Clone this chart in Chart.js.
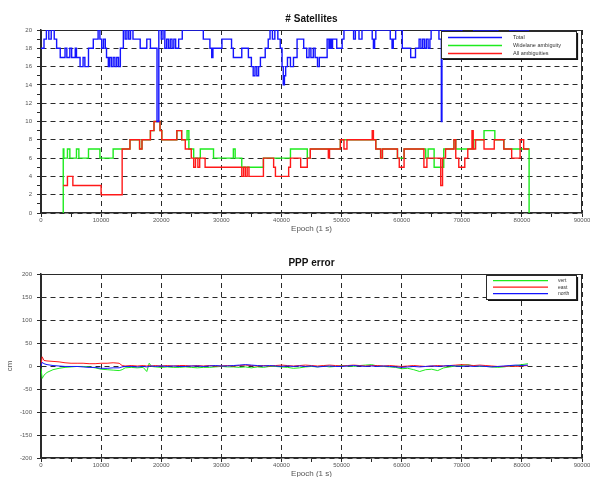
<!DOCTYPE html>
<html>
<head>
<meta charset="utf-8">
<script src="https://cdn.jsdelivr.net/npm/chart.js@4.4.1/dist/chart.umd.min.js"></script>
<style>
	html, body { margin: 0; padding: 0; background: #fff; overflow: hidden; }
	.page { position: relative; width: 590px; height: 477px; overflow: hidden; }
	.panel { position: absolute; left: 0; }
	#sats { top: 0; }
	#err { top: 238px; }
</style>
</head>
<body>
<div class="page">
	<canvas id="sats" class="panel" width="590" height="238"></canvas>
	<canvas id="err" class="panel" width="590" height="245"></canvas>
</div>
<script>
// # Satellites (step series: value holds from epoch until the next epoch)
const totalEpoch = [0, 500, 900, 1300, 1700, 2200, 2600, 3200, 4000, 4300, 4800, 5100, 5700, 5900, 6500, 7000, 7300, 7900, 8700, 9500, 9800, 10100, 10400, 10700, 10900, 11200, 11400, 11700, 12000, 12300, 12600, 12900, 13200, 13700, 14000, 14300, 14600, 14900, 15300, 16500, 17600, 18200, 19300, 19600, 20000, 20300, 20600, 20900, 21200, 21500, 21800, 22100, 22400, 22900, 23500, 27000, 28100, 28400, 28600, 30100, 31700, 32000, 33400, 34500, 35000, 35300, 35600, 35900, 36200, 36500, 37300, 37800, 38100, 38500, 38900, 39400, 39800, 40100, 40300, 40500, 40700, 41000, 41500, 42000, 42600, 43700, 44200, 44600, 44900, 45300, 45600, 46000, 46300, 47600, 47900, 48100, 48300, 48500, 49200, 50100, 50400, 52000, 52300, 52900, 53400, 55100, 55300, 55500, 55700, 58100, 58400, 58600, 59000, 60100, 61500, 62300, 62900, 63200, 63500, 63800, 64100, 64400, 64700, 64900, 66200, 66600, 66700, 70000, 72000, 76000, 78000, 81200];
const totalSats = [18, 19, 20, 19, 20, 19, 18, 17, 18, 17, 18, 17, 18, 17, 16, 17, 16, 18, 19, 20, 19, 18, 19, 18, 17, 16, 17, 16, 17, 16, 17, 16, 18, 20, 19, 20, 19, 20, 19, 18, 19, 18, 10, 20, 19, 20, 18, 19, 18, 19, 18, 19, 18, 19, 20, 19, 18, 17, 18, 19, 18, 17, 18, 17, 16, 15, 16, 15, 16, 17, 18, 19, 20, 19, 20, 19, 18, 16, 14, 15, 16, 17, 16, 17, 19, 18, 17, 18, 17, 18, 17, 16, 17, 19, 18, 19, 18, 19, 18, 19, 20, 19, 20, 19, 20, 19, 18, 19, 20, 19, 18, 19, 20, 18, 17, 18, 19, 18, 19, 18, 19, 18, 19, 20, 19, 10, 20, 19, 20, 19, 20, 20];

const wideEpoch = [3700, 3701, 3800, 4400, 4800, 5900, 6300, 7900, 9800, 12000, 14800, 16400, 16800, 18200, 18800, 19800, 20100, 22600, 23400, 24300, 24600, 25400, 26500, 28700, 32000, 32300, 33400, 37000, 41500, 44300, 44800, 49800, 55700, 56500, 56800, 59300, 60400, 64000, 64400, 65400, 67000, 68700, 69000, 72000, 73700, 75500, 77000, 81200];
const wideSats = [0, 7, 6, 7, 6, 7, 6, 7, 6, 7, 8, 7, 8, 9, 10, 9, 8, 9, 8, 9, 7, 6, 7, 6, 7, 6, 5, 6, 7, 6, 7, 8, 7, 6, 7, 6, 7, 6, 7, 5, 7, 8, 7, 8, 9, 8, 7, 0];

const allEpoch = [3700, 4400, 5300, 10000, 13500, 14800, 16400, 16800, 18200, 18800, 19800, 20100, 22600, 23400, 24000, 25000, 25400, 25700, 26100, 26400, 27300, 33400, 33700, 34000, 34300, 34600, 37000, 38700, 39000, 41200, 41500, 43200, 44300, 44800, 47800, 48000, 49800, 50400, 50900, 55100, 55300, 55700, 56500, 56800, 59300, 59600, 60400, 63700, 64200, 66500, 66800, 67300, 68700, 69000, 69500, 70500, 71000, 71700, 71900, 72300, 73700, 75400, 77000, 78300, 79700, 80300, 81200];
const allSats = [3, 4, 3, 2, 7, 8, 7, 8, 9, 10, 9, 8, 9, 8, 7, 6, 5, 6, 5, 6, 5, 4, 5, 4, 5, 4, 6, 5, 4, 5, 6, 5, 6, 7, 6, 7, 8, 7, 8, 9, 8, 7, 6, 7, 6, 5, 7, 5, 6, 3, 6, 7, 8, 6, 5, 6, 7, 9, 7, 8, 7, 8, 7, 6, 8, 7, 7];

// PPP error (cm)
const errEpoch = [0, 200, 500, 1000, 2000, 3000, 4000, 5000, 6000, 7000, 8000, 9000, 10000, 11000, 12000, 13000, 13500, 14000, 15000, 16000, 17000, 17600, 18000, 18400,
	19000, 20000, 21000, 22000, 23000, 24000, 25000, 26000, 27000, 28000, 29000, 30000, 31000, 32000, 33000, 34000, 35000, 36000, 37000, 38000, 39000, 40000,
	41000, 42000, 43000, 44000, 45000, 46000, 47000, 48000, 49000, 50000, 51000, 52000, 53000, 54000, 55000, 56000, 57000, 58000, 59000, 60000,
	61000, 62000, 63000, 64000, 65000, 66000, 67000, 68000, 69000, 70000, 71000, 72000, 73000, 74000, 75000, 76000, 77000, 78000, 79000, 80000, 81000];
const vertCm = [-5, -27, -20, -14, -8, -5, -3, -2, -1, -1, -2, -4, -7, -8, -9, -10, -8, -4, -3, -4, -3, -12, 6, -1,
	-2, -3, -2, -3, -3, -2, -3, -4, -3, -3, -2, -1, -2, -2, -3, -2, -4, -2, -3, -1, -1, -2,
	-3, -5, -4, -2, -1, -2, 0, -2, -1, 1, 0, -1, 1, 2, 3, 0, -1, -2, -3, -6,
	-5, -8, -12, -8, -7, -10, -4, -2, 0, 1, 3, 0, -1, -1, -2, -3, -2, 0, 1, 3, 5];
const eastCm = [2, 20, 12, 11, 10, 9, 7, 6, 6, 6, 5, 5, 6, 6, 7, 6, 1, 0, 1, 0, 1, 0, 1, 0,
	1, 0, 1, 0, 1, 1, 0, 1, 0, 1, 0, 0, 1, 0, 1, 2, 1, 0, 1, 0, 1, 2,
	1, 0, 1, 2, 1, 0, 1, 2, 1, 0, 1, 2, 1, 0, 1, 1, 0, 1, 0, -1,
	0, 1, 0, -1, 0, 1, 0, 1, 2, 3, 2, 1, 2, 1, 0, -1, -1, 0, -1, 0, 1];
const northCm = [0, 8, 5, 3, 1, 0, -1, -1, -1, -2, -3, -3, -5, -5, -4, -4, -2, -1, -1, -2, -1, -2, -1, 0,
	-1, 0, -1, 0, -1, -1, 0, 0, -1, 0, 1, 0, 0, 1, 2, 3, 2, 1, 0, 1, 0, -1,
	0, -1, 0, -1, 0, -2, -1, 0, -1, -1, 0, 1, 0, -1, 0, -1, 0, -1, -2, -3,
	-2, -1, -2, -1, 0, -1, 0, 1, 0, -1, 0, -1, 0, -1, -2, -1, 0, 1, 2, 1, 2];

const BLUE = 'rgb(20, 20, 255)',
	GREEN = 'rgb(30, 235, 30)',
	RED = 'rgb(255, 25, 25)',
	INK = '#2a2a2a',
	LABEL = '#555';

Chart.defaults.font.family = "'Liberation Sans', Arial, sans-serif";

const toPoints = (xs, ys) => xs.map((x, i) => ({ x, y: ys[i] }));

// plot frame on all four sides
const plotFrame = {
	id: 'plotFrame',
	beforeDatasetsDraw(chart) {
		const { ctx, chartArea: a } = chart;
		ctx.save();
		ctx.strokeStyle = INK;
		ctx.lineWidth = 1;
		ctx.strokeRect(a.left + 0.5, a.top + 0.5, a.width - 1, a.height - 1);
		ctx.restore();
	},
};

// boxed legend inside the upper right corner of the plot
const boxLegend = {
	id: 'boxLegend',
	afterDraw(chart, args, opts) {
		const { ctx, chartArea: a } = chart;
		const x = a.right - opts.right - opts.width,
			y = a.top + opts.top;
		ctx.save();
		ctx.fillStyle = '#fff';
		ctx.fillRect(x, y, opts.width, opts.height);
		ctx.strokeStyle = INK;
		ctx.lineWidth = 1;
		ctx.strokeRect(x + 0.5, y + 0.5, opts.width, opts.height);
		ctx.lineWidth = 1.2;
		ctx.strokeStyle = '#111';
		ctx.beginPath();
		ctx.moveTo(x + opts.width + 1.5, y + 2);
		ctx.lineTo(x + opts.width + 1.5, y + opts.height + 1.5);
		ctx.lineTo(x + 2, y + opts.height + 1.5);
		ctx.stroke();
		ctx.font = `${opts.fontSize}px 'Liberation Sans', Arial, sans-serif`;
		ctx.textBaseline = 'middle';
		opts.items.forEach((item, i) => {
			const ly = y + opts.firstRow + i * opts.rowStep;
			ctx.strokeStyle = item.color;
			ctx.lineWidth = 1.3;
			ctx.beginPath();
			ctx.moveTo(x + 7, ly);
			ctx.lineTo(x + 7 + opts.lineLength, ly);
			ctx.stroke();
			ctx.fillStyle = '#333';
			ctx.fillText(item.text, x + opts.textX, ly);
		});
		ctx.restore();
	},
};

const epochAxis = () => ({
	type: 'linear',
	min: 0,
	max: 90000,
	ticks: {
		stepSize: 5000,
		autoSkip: false,
		maxRotation: 0,
		padding: 0,
		color: LABEL,
		font: { size: 6 },
		callback: (v) => (v % 10000 === 0 ? v : ''),
	},
	grid: {
		color: (c) => (c.tick && c.tick.value % 10000 === 0 ? INK : 'rgba(0,0,0,0)'),
		tickColor: INK,
		tickLength: 4,
		lineWidth: 1,
	},
	border: { display: true, color: INK, width: 1.5, dash: [5, 4] },
	title: {
		display: true,
		text: 'Epoch (1 s)',
		color: LABEL,
		font: { size: 8 },
		padding: { top: 0, bottom: 4 },
	},
	afterFit: (s) => {
		s.height = 25;
		s.paddingLeft = 0;
		s.paddingRight = 0;
	},
});

const valueAxis = (min, max, step, labelEvery, gridEvery, titleText) => ({
	type: 'linear',
	min,
	max,
	ticks: {
		stepSize: step,
		autoSkip: false,
		padding: 5,
		color: LABEL,
		font: { size: 6 },
		callback: (v) => (v % labelEvery === 0 ? v : ''),
	},
	grid: {
		color: (c) => (c.tick && c.tick.value % gridEvery === 0 ? INK : 'rgba(0,0,0,0)'),
		tickColor: INK,
		tickLength: 4,
		lineWidth: 1,
	},
	border: { display: true, color: INK, width: 1.5, dash: [5, 4] },
	title: {
		display: !!titleText,
		text: titleText || '',
		color: LABEL,
		font: { size: 8 },
		padding: { top: 5, bottom: 0 },
	},
	afterFit: (s) => {
		s.width = 41;
		s.paddingTop = 0;
		s.paddingBottom = 0;
	},
});

const stepLine = (label, points, color, order) => ({
	label,
	data: points,
	borderColor: color,
	backgroundColor: color,
	borderWidth: 1.4,
	pointRadius: 0,
	stepped: true,
	fill: false,
	order,
});

const plainLine = (label, points, color, order) => ({
	label,
	data: points,
	borderColor: color,
	backgroundColor: color,
	borderWidth: 1,
	pointRadius: 0,
	fill: false,
	order,
});

const drawSatellites = () => {
	const config = {
		type: 'line',
		data: {
			datasets: [
				stepLine('Total', toPoints(totalEpoch, totalSats), BLUE, 0),
				stepLine('Widelane ambiguity', toPoints(wideEpoch, wideSats), GREEN, 2),
				stepLine('All ambiguities', toPoints(allEpoch, allSats), RED, 1),
			],
		},
		options: {
			responsive: false,
			animation: false,
			devicePixelRatio: 1,
			layout: { padding: { left: 0, right: 8, top: 0, bottom: 0 } },
			scales: {
				x: epochAxis(),
				y: valueAxis(0, 20, 1, 2, 2, null),
			},
			plugins: {
				legend: { display: false },
				tooltip: { enabled: false },
				title: {
					display: true,
					text: '# Satellites',
					fullSize: false,
					color: '#111',
					font: { size: 10, weight: 'bold' },
					padding: { top: 13, bottom: 5 },
				},
				boxLegend: {
					right: 6,
					top: 1,
					width: 135,
					height: 27,
					firstRow: 6.5,
					rowStep: 8,
					lineLength: 54,
					textX: 72,
					fontSize: 5.5,
					items: [
						{ text: 'Total', color: BLUE },
						{ text: 'Widelane ambiguity', color: GREEN },
						{ text: 'All ambiguities', color: RED },
					],
				},
			},
		},
		plugins: [plotFrame, boxLegend],
	};
	new Chart(document.getElementById('sats'), config);
};

const drawError = () => {
	const config = {
		type: 'line',
		data: {
			datasets: [
				plainLine('vert', toPoints(errEpoch, vertCm), GREEN, 2),
				plainLine('east', toPoints(errEpoch, eastCm), RED, 1),
				plainLine('north', toPoints(errEpoch, northCm), BLUE, 0),
			],
		},
		options: {
			responsive: false,
			animation: false,
			devicePixelRatio: 1,
			layout: { padding: { left: 0, right: 8, top: 0, bottom: 0 } },
			scales: {
				x: epochAxis(),
				y: valueAxis(-200, 200, 50, 50, 50, 'cm'),
			},
			plugins: {
				legend: { display: false },
				tooltip: { enabled: false },
				title: {
					display: true,
					text: 'PPP error',
					fullSize: false,
					color: '#111',
					font: { size: 10, weight: 'bold' },
					padding: { top: 19, bottom: 5 },
				},
				boxLegend: {
					right: 6,
					top: 1,
					width: 90,
					height: 24,
					firstRow: 5.7,
					rowStep: 6.5,
					lineLength: 55,
					textX: 72,
					fontSize: 5,
					items: [
						{ text: 'vert', color: GREEN },
						{ text: 'east', color: RED },
						{ text: 'north', color: BLUE },
					],
				},
			},
		},
		plugins: [plotFrame, boxLegend],
	};
	new Chart(document.getElementById('err'), config);
};

drawSatellites();
drawError();
</script>
</body>
</html>
